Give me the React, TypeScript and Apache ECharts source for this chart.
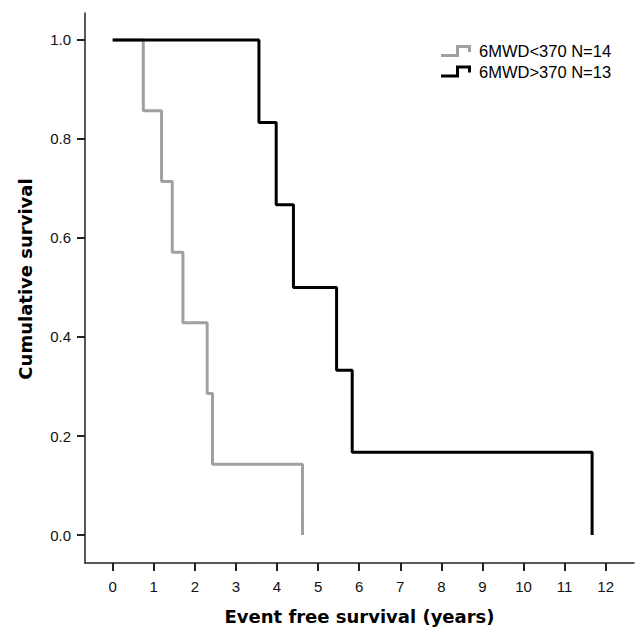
import React, { useEffect, useRef } from "react";
import * as echarts from "echarts";

// Kaplan-Meier steps: [time (years), cumulative survival after event]
const lowTimes = [0, 0.745, 1.19, 1.45, 1.71, 2.3, 2.43, 4.62];
const lowSurv = [1.0, 0.857, 0.714, 0.571, 0.429, 0.286, 0.143, 0.0];
const highTimes = [0, 3.56, 3.98, 4.4, 5.45, 5.83, 11.67];
const highSurv = [1.0, 0.833, 0.667, 0.5, 0.333, 0.167, 0.0];
const seriesNames = ["6MWD<370 N=14", "6MWD>370 N=13"];
const xTicks = [0, 1, 2, 3, 4, 5, 6, 7, 8, 9, 10, 11, 12];
const yTicks = [0, 0.2, 0.4, 0.6, 0.8, 1.0];

const stepIcon =
  "path://M0,9 L15,9 L15,0 L30,0 L30,7 L27,7 L27,3 L18,3 L18,12 L0,12 Z";

export default function App() {
  const ref = useRef<HTMLDivElement>(null);
  useEffect(() => {
    if (!ref.current) return;
    const chart = echarts.init(ref.current, null, { renderer: "svg" });
    const lowData = lowTimes.map((t, i) => [t, lowSurv[i]]);
    const highData = highTimes.map((t, i) => [t, highSurv[i]]);
    chart.setOption({
      animation: false,
      backgroundColor: "#fff",
      grid: { left: 85, top: 13, right: 1, bottom: 66, containLabel: false },
      legend: {
        orient: "vertical",
        left: 436,
        top: 37,
        itemWidth: 30,
        itemHeight: 12,
        itemGap: 2.5,
        textStyle: {
          fontFamily: "Liberation Sans, Arial, sans-serif",
          fontSize: 16.5,
          color: "#000",
          lineHeight: 18,
          padding: [0, 0, 0, 3],
        },
        data: [
          { name: seriesNames[0], icon: stepIcon },
          { name: seriesNames[1], icon: stepIcon },
        ],
      },
      xAxis: {
        type: "value",
        min: -0.674,
        max: 12.69,
        name: "Event free survival (years)",
        nameLocation: "middle",
        nameGap: 44,
        nameTextStyle: {
          fontFamily: "DejaVu Sans, Verdana, sans-serif",
          fontWeight: "bold",
          fontSize: 18,
          color: "#000",
        },
        axisLine: { onZero: false, lineStyle: { color: "#222", width: 1.5 } },
        axisTick: {
          show: true,
          length: 8,
          customValues: xTicks,
          lineStyle: { color: "#222", width: 2 },
        },
        axisLabel: {
          customValues: xTicks,
          margin: 16,
          fontFamily: "Liberation Sans, Arial, sans-serif",
          fontSize: 15,
          color: "#111",
          formatter: (v: number) => String(v),
        },
        splitLine: { show: false },
      },
      yAxis: {
        type: "value",
        min: -0.0565,
        max: 1.0544,
        name: "Cumulative survival",
        nameLocation: "middle",
        nameRotate: 90,
        nameGap: 51,
        nameTextStyle: {
          fontFamily: "DejaVu Sans, Verdana, sans-serif",
          fontWeight: "bold",
          fontSize: 18,
          color: "#000",
          padding: [0, 0, 0, 18],
        },
        axisLine: { show: true, onZero: false, lineStyle: { color: "#222", width: 1.5 } },
        axisTick: {
          show: true,
          length: 8,
          customValues: yTicks,
          lineStyle: { color: "#222", width: 2 },
        },
        axisLabel: {
          customValues: yTicks,
          margin: 14,
          fontFamily: "Liberation Sans, Arial, sans-serif",
          fontSize: 15,
          color: "#111",
          formatter: (v: number) => v.toFixed(1),
        },
        splitLine: { show: false },
      },
      series: [
        {
          name: seriesNames[0],
          type: "line",
          step: "end",
          data: lowData,
          showSymbol: false,
          symbol: "none",
          color: "#a0a0a0",
          lineStyle: { color: "#a0a0a0", width: 3 },
          z: 2,
        },
        {
          name: seriesNames[1],
          type: "line",
          step: "end",
          data: highData,
          showSymbol: false,
          symbol: "none",
          color: "#000",
          lineStyle: { color: "#000", width: 3 },
          z: 3,
        },
      ],
    });
    return () => chart.dispose();
  }, []);
  return <div ref={ref} style={{ width: 635, height: 630, position: "absolute", left: 0, top: 0 }} />;
}
